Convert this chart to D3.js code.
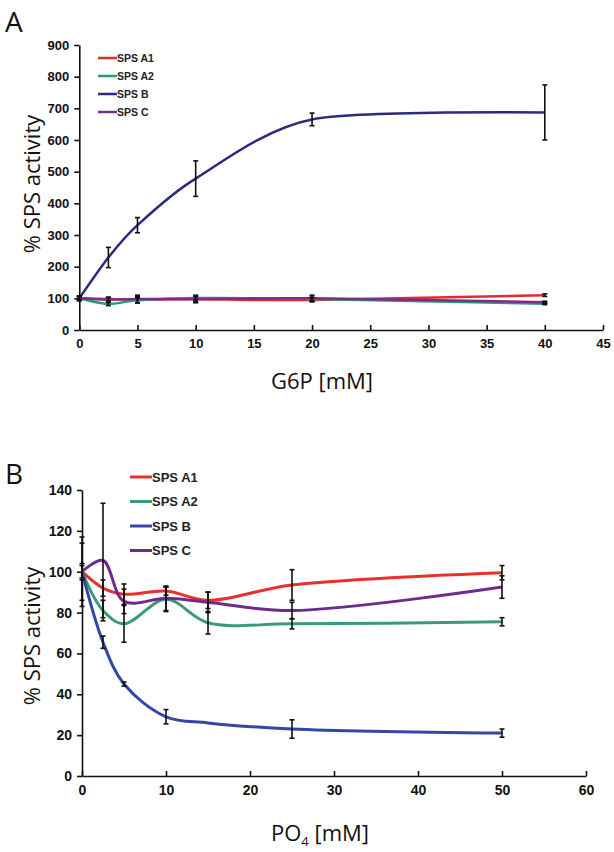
<!DOCTYPE html>
<html>
<head>
<meta charset="utf-8">
<script src="https://cdn.jsdelivr.net/npm/d3@7"></script>
<style>
  body { margin: 0; background: #fff; }
  svg { display: block; }
  .axis text { font-family: "Liberation Sans", Arial, sans-serif; font-weight: bold; fill: #111; }
  .axis path, .axis line { stroke: #111; stroke-width: 1.6; }
  .title { font-family: "Open Sans", sans-serif; fill: #111; }
  .legend text { font-family: "Liberation Sans", Arial, sans-serif; font-weight: bold; fill: #222; }
</style>
</head>
<body>
<div id="chart"></div>
<script>
const seriesNames = ["SPS A1", "SPS A2", "SPS B", "SPS C"];

// Panel A: G6P
const g6pX = [0, 2.5, 5, 10, 20, 40];
const g6pA1 = [100, 98, 96, 97, 95, 110];
const g6pA2 = [100, 82, 94, 101, 98, 83];
const g6pB = [100, 229, 331, 478, 665, 687];
const g6pC = [100, 96, 98, 98, 100, 88];
const g6pErrA1 = [6, 6, 10, 8, 6, 4];
const g6pErrA2 = [6, 5, 8, 6, 6, 3];
const g6pErrB = [8, 32, 24, 56, 20, 87];
const g6pErrC = [5, 6, 12, 12, 10, 3];
const g6pTicksX = [0, 5, 10, 15, 20, 25, 30, 35, 40, 45];
const g6pTicksY = [0, 100, 200, 300, 400, 500, 600, 700, 800, 900];
const g6pColors = ["#e42a2f", "#2f9a6c", "#2a2a7e", "#7b2d8c"];

// Panel B: PO4
const po4X = [0, 2.5, 5, 10, 15, 25, 50];
const po4A1 = [100, 92, 89, 90.5, 86, 93.5, 99.5];
const po4A2 = [100, 81, 74.5, 86.5, 75, 74.5, 75.5];
const po4B = [100, 65.5, 45, 29, 26, 23, 21];
const po4C = [100, 105.5, 85.5, 87, 85, 81, 92.5];
const po4ErrA1 = [3, 4, 5, 2, 4, 7.5, 3.5];
const po4ErrA2 = [17, 5, 9, 6, 5.5, 2.5, 2];
const po4ErrB = [4, 3, 1, 3.5, 0, 4.5, 2];
const po4ErrC = [14, 28, 6, 6, 5, 4, 5.5];
const po4TicksX = [0, 10, 20, 30, 40, 50, 60];
const po4TicksY = [0, 20, 40, 60, 80, 100, 120, 140];
const po4Colors = ["#e8302d", "#3a9c70", "#3447a6", "#6e2b8e"];

function buildSeries(xs, values, errs) {
  return seriesNames.map((name, i) => ({
    name,
    points: xs.map((x, j) => ({ x, y: values[i][j], e: errs[i][j] })),
  }));
}

class LinePanel {
  constructor(_svg, _opts) {
    this.svg = _svg;
    this.opts = _opts;
    this.initVis();
  }

  initVis() {
    let vis = this;
    const o = vis.opts;

    vis.x = d3.scaleLinear().domain(o.xDomain).range(o.xRange);
    vis.y = d3.scaleLinear().domain(o.yDomain).range(o.yRange);

    vis.g = vis.svg.append("g");

    // panel letter
    vis.g.append("text")
      .attr("class", "title")
      .attr("x", 5)
      .attr("y", o.letterY)
      .attr("font-size", 28)
      .text(o.letter);

    vis.g.append("g")
      .attr("class", "axis")
      .attr("transform", `translate(${o.xRange[0]},0)`)
      .call(d3.axisLeft(vis.y).tickValues(o.yTicks).tickSize(5).tickSizeOuter(0).tickPadding(5))
      .call((g) => g.selectAll("text").attr("font-size", o.tickFont));

    vis.g.append("g")
      .attr("class", "axis")
      .attr("transform", `translate(0,${o.yRange[0]})`)
      .call(d3.axisBottom(vis.x).tickValues(o.xTicks).tickSize(-5).tickSizeOuter(0).tickPadding(9))
      .call((g) => g.selectAll("text").attr("font-size", o.tickFont));

    vis.g.append("text")
      .attr("class", "title")
      .attr("transform", `translate(${o.yTitleX},${o.yTitleY}) rotate(-90)`)
      .attr("text-anchor", "middle")
      .attr("font-size", 22)
      .text("% SPS activity");

    const xt = vis.g.append("text")
      .attr("class", "title")
      .attr("x", o.xTitleX)
      .attr("y", o.xTitleY)
      .attr("text-anchor", "middle")
      .attr("font-size", 22);
    o.xTitle(xt);

    vis.line = d3.line()
      .x((d) => vis.x(d.x))
      .y((d) => vis.y(d.y))
      .curve(o.curve);

    vis.updateVis();
  }

  updateVis() {
    let vis = this;
    const o = vis.opts;

    vis.g.selectAll(".series")
      .data(o.data)
      .join("path")
      .attr("class", "series")
      .attr("fill", "none")
      .attr("stroke", (d, i) => o.colors[i])
      .attr("stroke-width", o.lineWidth)
      .attr("d", (d) => vis.line(d.points));

    const bars = o.data.flatMap((s) => s.points.filter((p) => p.e > 0));
    const eb = vis.g.selectAll(".err")
      .data(bars)
      .join("g")
      .attr("class", "err")
      .attr("stroke", "#111")
      .attr("stroke-width", 1.6);
    eb.append("line")
      .attr("x1", (d) => vis.x(d.x)).attr("x2", (d) => vis.x(d.x))
      .attr("y1", (d) => vis.y(d.y - d.e)).attr("y2", (d) => vis.y(d.y + d.e));
    [-1, 1].forEach((s) => {
      eb.append("line")
        .attr("x1", (d) => vis.x(d.x) - 2.5).attr("x2", (d) => vis.x(d.x) + 2.5)
        .attr("y1", (d) => vis.y(d.y + s * d.e)).attr("y2", (d) => vis.y(d.y + s * d.e));
    });

    const lg = vis.g.append("g").attr("class", "legend");
    const item = lg.selectAll("g")
      .data(seriesNames)
      .join("g")
      .attr("transform", (d, i) => `translate(${o.legendX},${o.legendY + i * o.legendStep})`);
    item.append("line")
      .attr("x1", 0).attr("x2", o.legendLen)
      .attr("stroke", (d, i) => o.colors[i])
      .attr("stroke-width", o.lineWidth);
    item.append("text")
      .attr("x", o.legendLen)
      .attr("dy", "0.35em")
      .attr("font-size", o.legendFont)
      .text((d) => d);
  }
}

const svg = d3.select("#chart").append("svg").attr("width", 614).attr("height", 852);

new LinePanel(svg, {
  letter: "A", letterY: 32,
  xDomain: [0, 45], xRange: [79.3, 603],
  yDomain: [0, 900], yRange: [330, 45],
  xTicks: g6pTicksX, yTicks: g6pTicksY, tickFont: 13,
  yTitleX: 40, yTitleY: 184,
  xTitleX: 322, xTitleY: 389,
  xTitle: (t) => t.text("G6P [mM]"),
  data: buildSeries(g6pX, [g6pA1, g6pA2, g6pB, g6pC], [g6pErrA1, g6pErrA2, g6pErrB, g6pErrC]),
  colors: g6pColors, lineWidth: 2.5, curve: d3.curveCardinal.tension(0.2),
  legendX: 98, legendY: 58, legendStep: 18, legendLen: 19, legendFont: 10.5,
});

new LinePanel(svg, {
  letter: "B", letterY: 484,
  xDomain: [0, 60], xRange: [82, 586],
  yDomain: [0, 140], yRange: [776, 490],
  xTicks: po4TicksX, yTicks: po4TicksY, tickFont: 14,
  yTitleX: 40, yTitleY: 636,
  xTitleX: 320, xTitleY: 841,
  xTitle: (t) => {
    t.append("tspan").text("PO");
    t.append("tspan").attr("font-size", 13).attr("dy", 5).text("4");
    t.append("tspan").attr("dy", -5).text(" [mM]");
  },
  data: buildSeries(po4X, [po4A1, po4A2, po4B, po4C], [po4ErrA1, po4ErrA2, po4ErrB, po4ErrC]),
  colors: po4Colors, lineWidth: 3, curve: d3.curveCatmullRom.alpha(0.5),
  legendX: 130, legendY: 477, legendStep: 24.5, legendLen: 22, legendFont: 13,
});
</script>
</body>
</html>
